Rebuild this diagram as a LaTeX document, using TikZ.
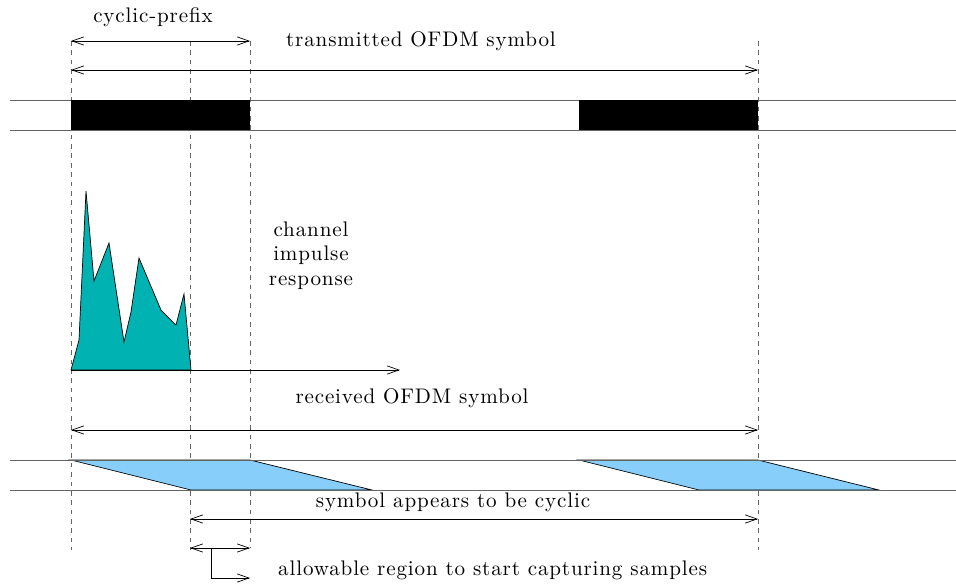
\documentclass[tikz,border=0pt]{standalone}
\usepackage{fontspec}
\usepackage{tikz}
\usetikzlibrary{arrows.meta, positioning, calc}
\definecolor{impulse}{RGB}{0,178,178}
\definecolor{symfill}{RGB}{135,206,250}
\definecolor{bandgray}{RGB}{100,100,100}
\font\lbltext="[lmroman10-regular.otf]:letterspace=4" at 18pt

\begin{document}
\begin{tikzpicture}[x=0.03cm, y=-0.03cm,
    >={Straight Barb[length=10pt,width=7pt]},
    lbl/.style={font=\fontsize{18}{20.5}\selectfont\lbltext, inner sep=0pt, anchor=base},
    band/.style={bandgray, line width=0.7pt},
    guide/.style={bandgray, dash pattern=on 4pt off 4pt, line width=0.7pt},
    dim/.style={<->, line width=0.6pt}]
  \useasboundingbox (0,0) rectangle (956,584);
  % dashed verticals
  \draw[guide] (71,41) -- (71,550);
  \draw[guide] (190,41) -- (190,550);
  \draw[guide] (250,41) -- (250,548);
  \draw[guide] (758,41) -- (758,550);
  % transmitted band
  \draw[band] (10,100) -- (956,100);
  \draw[band] (10,130) -- (956,130);
  \fill[black] (71,100) rectangle (250,130);
  \fill[black] (579,100) rectangle (758,130);
  % top dimensions
  \coordinate (cpL) at (71,41);
  \coordinate (cpR) at (250,41);
  \coordinate (txL) at (71,70);
  \coordinate (txR) at (758,70);
  \draw[dim] (cpL) -- (cpR);
  \draw[dim] (txL) -- (txR);
  \node[lbl] (cplabel) at (153,22) {cyclic-prefix};
  \node[lbl] (txlabel) at (421,46) {transmitted OFDM symbol};
  % channel impulse response
  \coordinate (irL) at (71,370);
  \coordinate (irEnd) at (400,370);
  \filldraw[fill=impulse, draw=black, line width=0.6pt]
    (71,370) -- (79,340) -- (86,191) -- (94,281) -- (109,243) -- (124,342)
    -- (131,312) -- (139,258) -- (161,310) -- (176,325) -- (184,294) -- (191,370) -- cycle;
  \draw[->, line width=0.6pt] (irL) -- (irEnd);
  \node[lbl, align=center] (irlabel) at (311,285) {channel\\impulse\\response};
  % received band
  \coordinate (rxL) at (71,430);
  \coordinate (rxR) at (758,430);
  \draw[dim] (rxL) -- (rxR);
  \node[lbl] (rxlabel) at (412,403) {received OFDM symbol};
  \filldraw[fill=symfill, draw=black, line width=0.6pt] (71,460) -- (250,460) -- (372,490) -- (191,490) -- cycle;
  \filldraw[fill=symfill, draw=black, line width=0.6pt] (579,460) -- (758,460) -- (879,490) -- (699,490) -- cycle;
  \draw[band] (10,460) -- (956,460);
  \draw[band] (10,490) -- (956,490);
  % cyclic part and capture window
  \coordinate (cyL) at (190,519);
  \coordinate (cyR) at (758,519);
  \draw[dim] (cyL) -- (cyR);
  \node[lbl] (cylabel) at (453,507) {symbol appears to be cyclic};
  \coordinate (awL) at (190,548);
  \coordinate (awR) at (250,548);
  \coordinate (awMid) at (211,548);
  \coordinate (awTip) at (250,578);
  \draw[dim] (awL) -- (awR);
  \draw[->, line width=0.6pt] (awMid) |- (awTip);
  \node[lbl, anchor=base west] (awlabel) at (278,575) {allowable region to start capturing samples};
\end{tikzpicture}
\end{document}
